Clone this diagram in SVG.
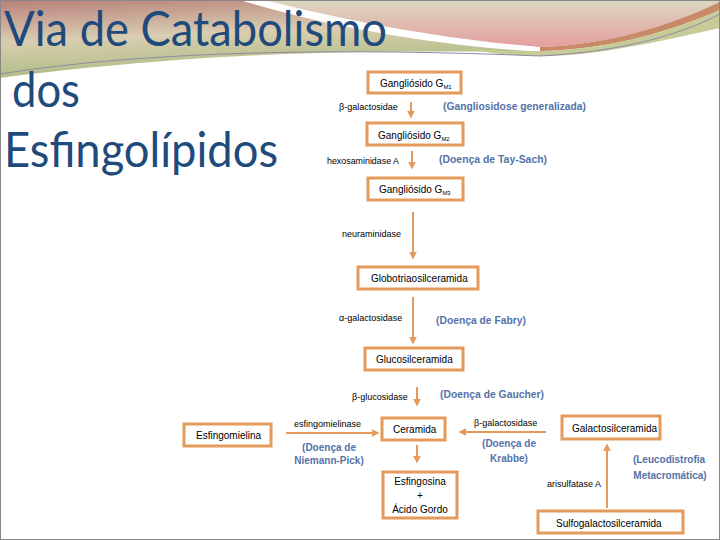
<svg xmlns="http://www.w3.org/2000/svg" width="720" height="540" viewBox="0 0 720 540">
<defs>
<linearGradient id="gLeft" x1="0" y1="0" x2="0.3" y2="1">
<stop offset="0" stop-color="#B8807A"/>
<stop offset="0.5" stop-color="#D9CDB2"/>
<stop offset="1" stop-color="#A9BC7C"/>
</linearGradient>
<linearGradient id="gPink" x1="0" y1="0" x2="0" y2="1">
<stop offset="0" stop-color="#DCD8C0"/>
<stop offset="1" stop-color="#E39FA0"/>
</linearGradient>
<marker id="ah" viewBox="0 0 10 10" refX="8" refY="5" markerWidth="4" markerHeight="4" orient="auto-start-reverse">
<path d="M0,0 L10,5 L0,10 z" fill="#E39A5B"/>
</marker>
<style>
.box{fill:#fff;stroke:#E39A5B;stroke-width:3}
.t{font-family:"Liberation Sans",Arial,sans-serif;font-size:10px;fill:#000}
.e{font-family:"Liberation Sans",Arial,sans-serif;font-size:9px;fill:#000}
.d{font-family:"Liberation Sans",Arial,sans-serif;font-size:10px;font-weight:bold;fill:#5472A8}
.sub{font-size:6px}
.title{font-family:Lato,"Liberation Sans",Arial,sans-serif;font-size:48px;fill:#1F4A7C}
.c{stroke:#E39A5B;stroke-width:2;fill:none;marker-end:url(#ah)}
</style>
</defs>
<rect x="0" y="0" width="720" height="540" fill="#fff"/>
<g id="background">
<path d="M0,0 H240 C320,25 430,45 540,52 C420,52 250,46 0,78 Z" fill="url(#gLeft)"/>
<path d="M265,0 H720 V2 C660,30 600,45 540,47 C450,40 350,22 265,0 Z" fill="url(#gPink)"/>
<path d="M540,47 C600,45 660,30 720,2 V10 C660,36 600,50 540,51 Z" fill="#C98A6A"/>
<path d="M470,48 C500,52 520,51 540,51 C600,50 660,36 720,10 V28 C640,46 590,56 540,56 C500,55 480,52 470,48 Z" fill="#C6CB98"/>
<path d="M0,74 C150,50 350,48 540,56 C620,52 680,35 720,14" fill="none" stroke="#8F8AA8" stroke-width="1"/>
<rect x="0.5" y="0.5" width="719" height="539" fill="none" stroke="#888" stroke-width="1"/>
</g>
<g id="title">
<text class="title" x="4" y="46" textLength="383" lengthAdjust="spacingAndGlyphs">Via de Catabolismo</text>
<text class="title" x="12" y="107" textLength="68" lengthAdjust="spacingAndGlyphs">dos</text>
<text class="title" x="4" y="167" textLength="274" lengthAdjust="spacingAndGlyphs">Esfingolípidos</text>
</g>
<g id="connectors">
<line class="c" x1="411" y1="102" x2="411" y2="117"/>
<line class="c" x1="412" y1="151" x2="412" y2="168"/>
<line class="c" x1="413" y1="212" x2="413" y2="258"/>
<line class="c" x1="413" y1="297" x2="413" y2="343"/>
<line class="c" x1="417" y1="387" x2="417" y2="405"/>
<line class="c" x1="417" y1="445" x2="417" y2="462"/>
<line class="c" x1="286" y1="433" x2="378" y2="433"/>
<line class="c" x1="546" y1="432" x2="460" y2="432"/>
<line class="c" x1="607" y1="508" x2="607" y2="445"/>
</g>
<g id="gm1">
<rect class="box" x="368" y="72" width="93" height="21"/>
<text class="t" x="380" y="87">Gangliósido G<tspan class="sub" dy="2">M1</tspan></text>
</g>
<g id="gm2">
<rect class="box" x="367" y="123" width="96" height="22"/>
<text class="t" x="378" y="138.5">Gangliósido G<tspan class="sub" dy="2">M2</tspan></text>
</g>
<g id="gm3">
<rect class="box" x="368" y="178" width="95" height="22"/>
<text class="t" x="379" y="193">Gangliósido G<tspan class="sub" dy="2">M3</tspan></text>
</g>
<g id="globotriaosilceramida">
<rect class="box" x="358" y="267" width="120" height="22"/>
<text class="t" x="371" y="282">Globotriaosilceramida</text>
</g>
<g id="glucosilceramida">
<rect class="box" x="365" y="348" width="98" height="22"/>
<text class="t" x="376" y="363">Glucosilceramida</text>
</g>
<g id="ceramida">
<rect class="box" x="382" y="418" width="63" height="22"/>
<text class="t" x="393" y="433">Ceramida</text>
</g>
<g id="esfingosina">
<rect class="box" x="383" y="472" width="74" height="46"/>
<text class="t" x="420" y="485" text-anchor="middle">Esfingosina</text>
<text class="t" x="420" y="499" text-anchor="middle">+</text>
<text class="t" x="420" y="512.5" text-anchor="middle">Ácido Gordo</text>
</g>
<g id="esfingomielina">
<rect class="box" x="184" y="424" width="87" height="22"/>
<text class="t" x="196" y="438.5">Esfingomielina</text>
</g>
<g id="galactosilceramida">
<rect class="box" x="562" y="416" width="98" height="23"/>
<text class="t" x="572" y="432">Galactosilceramida</text>
</g>
<g id="sulfogalactosilceramida">
<rect class="box" x="538" y="511" width="145" height="22"/>
<text class="t" x="556" y="527">Sulfogalactosilceramida</text>
</g>
<g id="labels">
<text class="e" x="339" y="110">β-galactosidae</text>
<text class="d" x="443" y="110" textLength="143" lengthAdjust="spacingAndGlyphs">(Gangliosidose generalizada)</text>
<text class="e" x="327" y="164" textLength="72" lengthAdjust="spacingAndGlyphs">hexosaminidase A</text>
<text class="d" x="439" y="163" textLength="108" lengthAdjust="spacingAndGlyphs">(Doença de Tay-Sach)</text>
<text class="e" x="342" y="237">neuraminidase</text>
<text class="e" x="339" y="321">α-galactosidase</text>
<text class="d" x="436" y="324" textLength="90" lengthAdjust="spacingAndGlyphs">(Doença de Fabry)</text>
<text class="e" x="352" y="400">β-glucosidase</text>
<text class="d" x="440" y="398" textLength="104" lengthAdjust="spacingAndGlyphs">(Doença de Gaucher)</text>
<text class="e" x="294" y="427">esfingomielinase</text>
<text class="d" x="329" y="451" text-anchor="middle">(Doença de</text>
<text class="d" x="329" y="464" text-anchor="middle">Niemann-Pick)</text>
<text class="e" x="474" y="426">β-galactosidase</text>
<text class="d" x="509" y="447" text-anchor="middle">(Doença de</text>
<text class="d" x="509" y="462" text-anchor="middle">Krabbe)</text>
<text class="e" x="547" y="487">arisulfatase A</text>
<text class="d" x="669" y="463" text-anchor="middle">(Leucodistrofia</text>
<text class="d" x="670" y="479" text-anchor="middle">Metacromática)</text>
</g>
</svg>
